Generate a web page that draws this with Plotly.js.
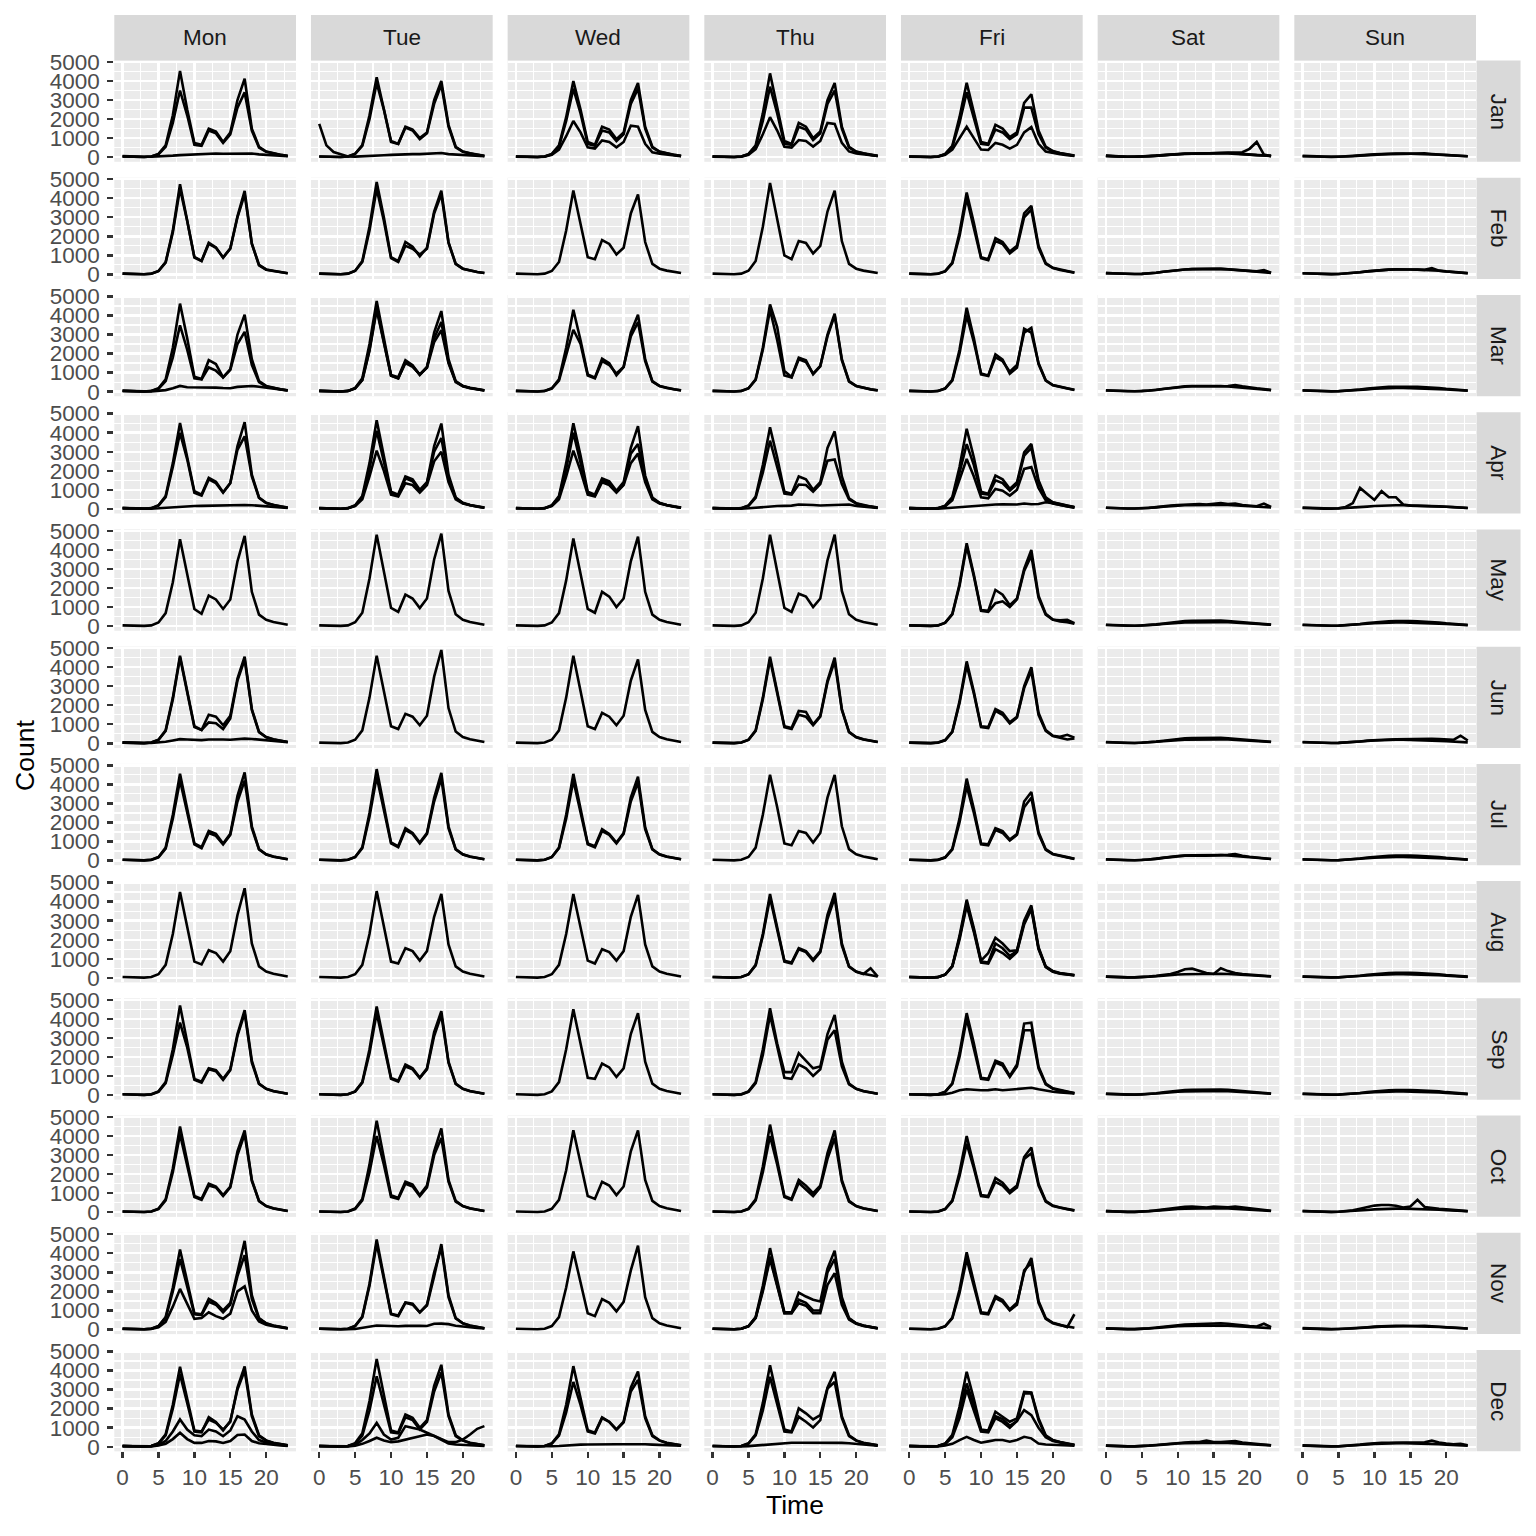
<!DOCTYPE html>
<html><head><meta charset="utf-8">
<script src="https://cdn.plot.ly/plotly-3.0.1.min.js"></script>
<style>html,body{margin:0;padding:0;background:#fff}#chart{width:1536px;height:1536px}</style>
</head><body><div id="chart"></div>
<script>
// ---------- labels ----------
const hours = [0,1,2,3,4,5,6,7,8,9,10,11,12,13,14,15,16,17,18,19,20,21,22,23];
const days = ['Mon','Tue','Wed','Thu','Fri','Sat','Sun'];
const months = ['Jan','Feb','Mar','Apr','May','Jun','Jul','Aug','Sep','Oct','Nov','Dec'];
const xTickVals = [0,5,10,15,20];
const yTickVals = [0,1000,2000,3000,4000,5000];

// ---------- shared low-traffic profiles (hours 0..23) ----------
const satA = [60,40,30,20,20,30, 50,80,110,150,170,190, 200,200,190,200,210,200, 180,150,130,110,90,70];
const satB = [80,50,35,25,20,30, 40,70,100,130,160,170, 180,190,180,190,210,230, 200,160,130,110,90,70];
const satC = [70,50,35,25,20,30, 50,90,140,190,230,260, 280,290,300,300,290,270, 240,200,170,140,110,80];
const sunA = [70,50,35,25,20,25, 40,60,90,120,150,170, 180,190,190,180,190,180, 160,130,110,90,70,50];
const sunB = [50,30,25,20,15,20, 30,50,80,110,130,150, 160,170,170,180,190,200, 170,140,110,90,70,50];
const sunC = [60,40,30,20,15,20, 40,70,110,160,200,230, 250,260,270,260,250,240, 230,190,150,120,90,60];
const holA = [60,40,30,20,20,30, 50,80,110,130,150,170, 180,190,180,190,200,210, 190,150,120,90,70,50];
const satJanSpike = [70,40,30,20,20,30, 50,80,110,140,160,180, 180,190,200,210,220,230, 240,260,440,800,140,50];
const satFebBump = [70,50,35,25,20,30, 50,90,140,190,230,260, 280,290,320,300,290,270, 250,220,190,160,230,90];
const sunFebBump = [60,40,30,20,15,20, 40,70,110,160,200,230, 250,270,280,260,250,240, 330,200,160,130,100,70];
const satMarBump = [60,40,30,20,20,30, 60,100,150,200,250,280, 300,290,280,270,280,300, 350,280,220,180,140,90];
const satAprBump = [60,40,30,20,20,30, 50,90,140,180,200,220, 240,260,230,250,300,260, 280,200,160,140,280,100];
const sunAprSpike = [50,30,20,15,15,30, 100,300,1100,790,470,930, 610,610,230,170,160,170, 160,140,110,90,70,50];
const sunJunSpike = [60,40,30,20,15,25, 40,70,100,140,170,190, 200,210,220,230,250,260, 240,220,200,180,400,150];
const satJulBump = [60,40,30,20,20,30, 60,100,150,200,240,260, 270,260,250,260,280,300, 340,250,200,160,120,80];
const satAugBump = [60,40,30,20,20,30, 60,100,150,200,300,450, 480,350,250,200,500,350, 250,200,160,140,110,80];
const satOctBump = [60,40,30,20,20,30, 60,100,150,200,250,280, 300,270,250,300,280,260, 300,250,200,160,120,80];
const sunOctBump = [60,40,30,20,15,25, 50,100,180,280,350,380, 380,340,250,300,650,280, 220,180,150,120,90,60];
const satNovBump = [60,40,30,20,20,30, 60,100,150,200,220,260, 280,300,300,320,330,300, 250,200,180,160,300,120];
const satDecBump = [60,40,30,20,20,30, 60,90,130,170,200,220, 240,250,320,250,240,260, 300,220,180,150,120,80];
const sunDecBump = [60,40,30,20,15,20, 40,70,110,150,180,200, 200,200,200,200,210,230, 320,220,170,130,150,80];

// ---------- per month: [Mon..Sun], each a list of daily hourly count lines ----------
const jan = [
  [[40,20,10,10,40,170, 620,2200,4530,2500,750,650, 1500,1350,800,1300,3000,4120, 1500,550,300,200,130,70],
   [40,20,10,10,35,150, 550,1800,3500,2200,650,600, 1400,1250,750,1200,2600,3400, 1400,500,280,180,120,60],
   holA],
  [[1750,620,270,140,40,30, 40,60,80,100,120,140, 150,160,160,170,180,220, 160,130,110,90,70,50],
   [40,20,10,10,40,180, 640,2200,4200,2600,850,700, 1600,1450,1000,1300,3000,4000, 1700,550,300,200,130,70],
   [40,20,10,10,35,170, 600,2000,3900,2500,800,700, 1550,1400,950,1250,2800,3800, 1600,520,290,190,120,60]],
  [[40,20,10,10,40,170, 620,2100,4000,2500,800,650, 1600,1450,950,1300,3000,3900, 1600,550,300,200,130,70],
   [40,20,10,10,35,150, 560,1900,3600,2300,700,600, 1400,1300,850,1200,2800,3600, 1500,500,280,180,120,60],
   [30,15,10,10,30,120, 400,1100,1900,1300,520,450, 880,800,520,800,1650,1600, 700,260,180,130,90,50]],
  [[40,20,10,10,40,170, 620,2300,4400,2700,850,700, 1800,1600,1000,1350,3000,3900, 1600,550,300,200,130,70],
   [40,20,10,10,35,150, 560,1900,3700,2300,700,650, 1600,1450,900,1250,2800,3500, 1500,500,280,180,120,60],
   [30,15,10,10,30,120, 420,1200,2100,1400,550,500, 900,850,560,850,1800,1750, 750,300,200,140,100,60]],
  [[40,20,10,10,40,170, 600,2100,3900,2400,800,700, 1700,1500,1050,1300,2850,3300, 1400,550,320,220,150,90],
   [40,20,10,10,35,150, 550,1800,3400,2100,700,650, 1450,1300,950,1200,2600,2600, 1200,500,300,200,140,80],
   [30,15,10,10,30,120, 400,1000,1600,1000,400,380, 750,650,450,650,1300,1580, 700,300,220,160,110,70]],
  [satA, satB, satJanSpike],
  [sunA, sunB]
];
const feb = [
  [[40,20,10,10,40,180, 650,2300,4730,2900,920,710, 1670,1420,890,1370,3050,4380, 1630,480,250,180,120,60],
   [40,20,10,10,35,170, 620,2200,4500,2800,880,700, 1600,1400,880,1350,3000,4200, 1600,500,260,180,120,60]],
  [[40,20,10,10,40,190, 700,2500,4850,3000,900,700, 1700,1450,950,1400,3300,4400, 1700,550,300,200,130,70],
   [40,20,10,10,40,180, 650,2300,4500,2800,850,650, 1500,1350,1050,1350,3200,4200, 1650,550,300,200,130,70]],
  [[40,20,10,10,40,180, 650,2300,4400,2700,900,800, 1800,1600,1050,1400,3200,4200, 1700,550,300,200,130,70]],
  [[40,20,10,10,40,190, 700,2500,4800,2900,1000,800, 1750,1650,1100,1500,3300,4400, 1750,550,300,200,130,70]],
  [[40,20,10,10,40,170, 620,2200,4300,2700,900,800, 1900,1700,1200,1500,3200,3600, 1500,600,350,250,180,100],
   [40,20,10,10,35,160, 580,2000,4000,2500,850,750, 1750,1600,1100,1400,3000,3400, 1400,550,330,230,160,90]],
  [satC, satFebBump],
  [sunC, sunFebBump]
];
const mar = [
  [[40,20,10,10,40,180, 650,2300,4620,2800,780,660, 1650,1450,750,1170,3000,4040, 1700,550,300,200,130,70],
   [40,20,10,10,35,150, 550,1800,3480,2200,700,650, 1270,1100,750,1150,2500,3140, 1400,500,270,180,120,60],
   [50,30,20,15,15,30, 80,180,300,230,230,210, 210,210,190,180,250,260, 300,260,200,150,100,60]],
  [[40,20,10,10,40,190, 700,2500,4760,2900,870,750, 1650,1390,870,1270,3100,4230, 1700,550,300,200,130,70],
   [40,20,10,10,40,170, 620,2200,4400,2700,850,700, 1550,1350,900,1300,2800,3660, 1550,520,290,190,120,60],
   [40,20,10,10,35,170, 610,2150,4300,2650,830,700, 1500,1300,900,1250,2600,3220, 1500,500,280,180,120,60]],
  [[40,20,10,10,40,180, 650,2300,4300,2700,910,730, 1730,1500,860,1290,3100,4040, 1700,550,300,200,130,70],
   [40,20,10,10,35,160, 580,1900,3250,2500,850,700, 1600,1400,950,1300,2900,3650, 1600,520,290,190,120,60]],
  [[40,20,10,10,40,180, 650,2300,4580,3390,1080,770, 1780,1640,910,1330,3000,4090, 1700,550,300,200,130,70],
   [40,20,10,10,35,170, 620,2200,4300,2700,850,750, 1700,1550,950,1350,2900,4000, 1650,520,290,190,120,60]],
  [[40,20,10,10,40,170, 620,2200,4400,2800,910,820, 1960,1680,940,1260,3300,3100, 1500,600,350,250,180,100],
   [40,20,10,10,35,160, 580,2000,4000,2600,950,850, 1800,1600,1050,1400,3100,3350, 1450,580,330,230,160,90]],
  [satC, satMarBump],
  [sunA, sunC]
];
const apr = [
  [[40,20,10,10,40,190, 680,2400,4510,2800,930,750, 1630,1420,870,1360,3300,4550, 1800,600,320,200,130,70],
   [40,20,10,10,35,170, 620,2200,3990,2600,850,700, 1550,1350,850,1350,3100,3810, 1700,570,300,190,120,60],
   [40,30,20,15,15,30, 60,90,120,140,150,160, 170,180,180,190,200,200, 190,170,140,110,80,50]],
  [[40,20,10,10,40,190, 680,2400,4650,2800,900,750, 1700,1550,1000,1400,3300,4480, 1800,600,320,200,130,70],
   [40,20,10,10,35,170, 620,2100,4100,2500,850,700, 1600,1450,950,1350,3000,3720, 1650,570,300,190,120,60],
   [30,20,10,10,30,150, 500,1700,3060,2000,750,650, 1350,1250,850,1250,2500,3000, 1400,500,280,180,110,60]],
  [[40,20,10,10,40,190, 680,2400,4490,2800,900,750, 1600,1450,950,1400,3200,4340, 1750,600,320,200,130,70],
   [40,20,10,10,35,170, 620,2100,4000,2500,850,700, 1500,1350,900,1300,2900,3410, 1600,550,300,190,120,60],
   [30,20,10,10,30,150, 500,1700,3060,2000,750,650, 1400,1250,850,1250,2400,2900, 1400,500,280,180,110,60]],
  [[40,20,10,10,40,180, 650,2300,4280,2700,900,800, 1700,1550,1000,1400,3200,4070, 1700,550,300,200,130,70],
   [40,20,10,10,35,160, 580,1900,3580,2200,800,750, 1280,1250,900,1300,2530,2590, 1300,500,280,180,120,60],
   [40,30,20,15,15,30, 60,100,140,150,160,170, 230,230,200,180,200,190, 230,230,150,110,80,50]],
  [[40,20,10,10,40,170, 620,2200,4200,2700,900,800, 1750,1550,1050,1400,2970,3410, 1500,600,350,250,180,100],
   [40,20,10,10,35,150, 550,1900,3400,2300,800,750, 1500,1350,950,1300,2800,3200, 1400,550,330,230,160,90],
   [30,20,10,10,30,130, 450,1500,2620,1700,610,550, 1050,950,700,1000,2100,2190, 1100,450,280,200,140,80],
   [40,30,20,15,15,30, 60,100,140,170,190,200, 230,240,250,230,280,240, 260,350,300,200,120,60]],
  [satA, satAprBump],
  [sunAprSpike, sunA]
];
const may = [
  [[40,20,10,10,40,190, 680,2300,4560,2700,900,650, 1600,1400,900,1400,3400,4740, 1800,600,330,210,140,70]],
  [[40,20,10,10,40,200, 700,2500,4800,2900,950,750, 1650,1450,950,1450,3500,4850, 1850,620,330,210,140,70]],
  [[40,20,10,10,40,190, 680,2400,4600,2800,900,700, 1800,1550,1000,1450,3400,4700, 1800,600,330,210,140,70]],
  [[40,20,10,10,40,200, 700,2500,4800,2900,950,750, 1700,1550,1000,1450,3450,4800, 1850,620,330,210,140,70]],
  [[40,20,10,10,40,180, 640,2200,4350,2700,850,800, 1900,1650,1100,1450,3000,4000, 1600,650,350,250,200,120],
   [40,20,10,10,35,170, 610,2100,4200,2600,800,750, 1200,1300,1000,1400,2900,3700, 1500,600,330,300,330,150]],
  [satC, satA],
  [sunC, sunA]
];
const jun = [
  [[40,20,10,10,40,190, 680,2400,4600,2800,900,700, 1500,1400,950,1450,3400,4550, 1800,600,330,210,140,70],
   [40,20,10,10,40,180, 650,2300,4500,2700,850,700, 1100,1050,750,1300,3300,4400, 1750,580,320,200,130,70],
   [50,30,20,15,15,30, 80,150,220,200,170,170, 200,210,200,190,230,250, 230,200,160,120,90,60]],
  [[40,20,10,10,40,190, 680,2400,4600,2800,900,750, 1550,1400,950,1450,3500,4900, 1850,620,330,210,140,70]],
  [[40,20,10,10,40,190, 680,2400,4600,2800,900,750, 1600,1400,950,1450,3300,4400, 1750,600,330,210,140,70]],
  [[40,20,10,10,40,190, 680,2400,4550,2800,900,800, 1700,1650,1000,1450,3300,4500, 1800,600,330,210,140,70],
   [40,20,10,10,40,180, 650,2300,4400,2700,850,750, 1500,1400,950,1400,3200,4300, 1750,580,320,200,130,70]],
  [[40,20,10,10,40,170, 620,2200,4300,2700,900,850, 1800,1600,1100,1400,3000,4000, 1600,700,400,350,450,300],
   [40,20,10,10,35,160, 600,2100,4100,2600,850,800, 1700,1500,1050,1350,2900,3800, 1500,650,380,300,200,250]],
  [satA, satC],
  [sunA, sunJunSpike]
];
const jul = [
  [[40,20,10,10,40,190, 680,2400,4560,2700,900,700, 1550,1400,900,1400,3400,4630, 1800,600,330,210,140,70],
   [40,20,10,10,35,170, 620,2200,4200,2500,850,650, 1450,1300,850,1350,3100,4200, 1700,580,320,200,130,70]],
  [[40,20,10,10,40,190, 700,2500,4800,2900,950,750, 1700,1450,950,1450,3300,4600, 1800,600,330,210,140,70],
   [40,20,10,10,40,180, 650,2300,4400,2700,900,700, 1600,1400,900,1400,3100,4300, 1700,580,320,200,130,70]],
  [[40,20,10,10,40,190, 680,2400,4550,2800,900,750, 1650,1400,950,1450,3300,4400, 1750,600,330,210,140,70],
   [40,20,10,10,40,180, 650,2200,4200,2600,850,700, 1550,1350,900,1400,3100,4100, 1650,580,320,200,130,70]],
  [[40,20,10,10,40,190, 680,2400,4500,2800,900,800, 1550,1450,950,1450,3300,4500, 1800,600,330,210,140,70]],
  [[40,20,10,10,40,170, 620,2200,4300,2700,900,850, 1700,1550,1100,1400,3100,3600, 1500,600,350,250,180,100],
   [40,20,10,10,35,160, 580,2000,3900,2500,850,800, 1600,1450,1050,1350,2800,3300, 1400,560,330,230,160,90]],
  [satC, satJulBump],
  [sunC, sunA]
];
const aug = [
  [[40,20,10,10,40,190, 680,2300,4500,2700,850,700, 1450,1300,850,1400,3300,4700, 1800,600,330,210,140,70]],
  [[40,20,10,10,40,190, 680,2300,4550,2700,850,750, 1550,1400,900,1400,3200,4400, 1750,600,330,210,140,70]],
  [[40,20,10,10,40,190, 680,2300,4400,2700,900,750, 1500,1350,900,1400,3200,4350, 1750,600,330,210,140,70]],
  [[40,20,10,10,40,190, 680,2300,4400,2700,900,800, 1550,1400,950,1400,3300,4450, 1800,600,330,210,140,70],
   [40,20,10,10,40,180, 650,2200,4200,2600,850,750, 1500,1350,900,1350,3100,4200, 1700,580,320,200,500,60]],
  [[40,20,10,10,40,170, 620,2200,4100,2600,900,1300, 2100,1800,1400,1450,3000,3800, 1600,600,350,250,200,150],
   [40,20,10,10,35,160, 600,2100,3900,2500,850,800, 1800,1550,1150,1400,2900,3700, 1550,580,330,230,180,130],
   [40,20,10,10,35,160, 600,2000,3800,2400,800,750, 1500,1300,1000,1350,2800,3600, 1500,560,320,220,170,120]],
  [satA, satAugBump],
  [sunA, sunC]
];
const sep = [
  [[40,20,10,10,40,190, 680,2400,4700,2800,850,700, 1400,1300,850,1350,3200,4450, 1800,600,330,210,140,70],
   [40,20,10,10,35,170, 620,2100,3800,2500,800,650, 1350,1250,800,1300,3100,4300, 1700,580,320,200,130,70]],
  [[40,20,10,10,40,190, 680,2400,4650,2800,900,750, 1600,1400,900,1400,3300,4400, 1750,600,330,210,140,70],
   [40,20,10,10,40,180, 650,2200,4300,2600,850,700, 1500,1350,900,1350,3100,4200, 1700,580,320,200,130,70]],
  [[40,20,10,10,40,190, 680,2400,4500,2700,900,850, 1650,1450,950,1400,3200,4300, 1750,600,330,210,140,70]],
  [[40,20,10,10,40,190, 680,2400,4550,2700,1200,1200, 2200,1800,1400,1500,3200,4200, 1750,600,330,210,140,70],
   [40,20,10,10,35,170, 620,2100,4200,2500,900,850, 1600,1400,1000,1350,2900,3400, 1500,560,320,200,130,70]],
  [[40,20,10,10,40,170, 620,2200,4300,2700,900,850, 1800,1650,1000,1600,3750,3800, 1500,600,350,250,180,100],
   [40,20,10,10,35,160, 580,2000,4000,2500,850,800, 1700,1550,950,1500,3400,3400, 1400,560,330,230,160,90],
   [40,30,20,15,15,40, 120,250,300,280,250,260, 300,250,280,300,350,380, 300,220,170,140,110,80]],
  [satA, satC],
  [sunA, sunC]
];
const oct = [
  [[40,20,10,10,40,190, 680,2300,4500,2700,850,700, 1500,1350,900,1350,3200,4300, 1700,600,330,210,140,70],
   [40,20,10,10,35,170, 620,2100,4100,2500,800,650, 1400,1300,850,1300,3000,4100, 1650,580,320,200,130,70]],
  [[40,20,10,10,40,200, 700,2500,4800,2900,900,750, 1600,1450,900,1400,3200,4400, 1700,600,330,210,140,70],
   [40,20,10,10,35,170, 620,2100,4000,2500,800,700, 1500,1350,850,1300,3000,3900, 1600,560,320,200,130,70]],
  [[40,20,10,10,40,180, 650,2200,4300,2600,850,700, 1600,1400,900,1350,3200,4300, 1700,600,330,210,140,70]],
  [[40,20,10,10,40,190, 680,2400,4600,2800,850,700, 1700,1400,1000,1400,3100,4300, 1700,600,330,210,140,70],
   [40,20,10,10,35,170, 620,2100,4000,2500,800,650, 1550,1200,850,1300,2800,3900, 1600,560,320,200,130,70]],
  [[40,20,10,10,40,170, 620,2100,4000,2500,900,850, 1800,1550,1100,1400,2900,3400, 1500,600,350,250,180,100],
   [40,20,10,10,35,160, 580,1900,3600,2300,850,800, 1600,1400,1000,1300,2800,3100, 1400,560,330,230,160,90]],
  [satA, satOctBump],
  [sunA, sunOctBump]
];
const nov = [
  [[40,20,10,10,40,180, 650,2200,4200,2600,850,800, 1610,1390,1000,1390,2990,4650, 1800,600,330,210,140,70],
   [40,20,10,10,35,170, 600,2000,3700,2300,800,750, 1450,1300,900,1300,2800,3900, 1600,560,320,200,130,70],
   [30,20,10,10,30,120, 400,1200,2130,1300,560,600, 900,700,560,830,2000,2260, 1000,420,250,170,110,60]],
  [[40,20,10,10,40,190, 680,2400,4720,2800,830,730, 1420,1350,900,1250,2780,4480, 1800,600,330,210,140,70],
   [40,20,10,10,35,180, 650,2300,4500,2700,800,700, 1400,1300,900,1300,3000,4300, 1700,580,320,200,130,70],
   [40,30,20,15,15,30, 80,150,210,200,180,170, 190,200,200,180,300,310, 280,200,150,110,80,50]],
  [[40,20,10,10,40,180, 650,2200,4100,2500,850,700, 1600,1400,950,1450,3100,4400, 1700,600,330,210,140,70]],
  [[40,20,10,10,40,180, 650,2300,4270,2600,900,900, 1940,1730,1560,1470,3200,4140, 1700,600,330,210,140,70],
   [40,20,10,10,35,170, 620,2100,3830,2400,850,850, 1560,1400,1000,1000,3000,3700, 1500,560,320,200,130,70],
   [40,20,10,10,35,160, 600,2000,3700,2300,850,850, 1380,1250,860,860,2340,2950, 1300,520,300,190,120,60]],
  [[40,20,10,10,40,170, 620,2100,4050,2500,900,850, 1750,1550,1050,1400,3000,3750, 1500,600,350,250,120,800],
   [40,20,10,10,35,160, 580,1900,3700,2300,850,800, 1650,1450,1000,1300,3100,3500, 1400,560,330,230,160,90]],
  [satNovBump, satA],
  [sunA, sunB]
];
const dec = [
  [[40,20,10,10,40,180, 650,2200,4200,2500,850,800, 1430,1250,900,1300,3100,4220, 1700,600,330,210,140,70],
   [40,20,10,10,35,170, 600,2000,3800,2300,800,750, 1550,1300,850,1350,3000,4000, 1600,560,320,200,130,70],
   [30,20,10,10,30,100, 300,800,1430,900,600,550, 900,800,550,850,1600,1430, 800,350,220,150,100,60],
   [30,20,10,10,20,60, 150,400,730,400,200,200, 300,280,200,300,620,640, 300,180,130,100,70,40]],
  [[40,20,10,10,40,190, 700,2400,4600,2700,850,750, 1690,1515,990,1400,3200,4300, 1700,600,330,210,140,70],
   [40,20,10,10,35,160, 580,1900,3700,2200,750,700, 1550,1400,900,1300,2900,3900, 1600,560,320,200,130,70],
   [40,20,10,10,30,100, 350,700,1250,640,380,470, 1080,990,900,730,560,380, 240,240,380,640,940,1080],
   [30,20,10,10,20,50, 150,300,470,330,240,280, 380,450,560,640,560,380, 170,120,100,80,60,40]],
  [[40,20,10,10,40,180, 650,2200,4230,2600,870,730, 1540,1310,910,1310,3100,3950, 1600,600,330,210,140,70],
   [40,20,10,10,35,160, 580,1800,3400,2200,800,700, 1500,1300,880,1280,2900,3500, 1500,560,320,200,130,70],
   [40,30,20,15,15,25, 40,70,100,110,120,130, 140,140,130,130,140,150, 130,110,100,90,70,50]],
  [[40,20,10,10,40,180, 650,2300,4280,2600,900,800, 2010,1750,1430,1660,3100,3930, 1600,600,330,210,140,70],
   [40,20,10,10,35,160, 600,1900,3670,2300,800,750, 1570,1310,1010,1400,3060,3400, 1500,560,320,200,130,70],
   [40,30,20,15,15,30, 60,100,150,180,200,210, 210,210,200,200,220,210, 200,180,140,110,80,50]],
  [[40,20,10,10,40,170, 620,2100,3930,2500,900,850, 1840,1570,1310,1490,2880,2850, 1500,600,350,250,180,100],
   [40,20,10,10,35,150, 560,1800,3320,2200,850,800, 1600,1450,1100,1350,2800,2800, 1400,560,330,230,160,90],
   [40,20,10,10,35,140, 500,1500,3000,1900,800,750, 1500,1300,1000,1350,1920,1660, 1000,500,300,220,150,80],
   [30,20,10,10,20,60, 150,350,520,350,210,280, 350,350,260,350,520,440, 170,120,110,90,70,50]],
  [satA, satDecBump],
  [sunA, sunDecBump]
];
const monthData = [jan, feb, mar, apr, may, jun, jul, aug, sep, oct, nov, dec];

// ---------- layout geometry (pixels) ----------
const W = 1536, H = 1536;
const FONT = '"Liberation Sans", Arial, Helvetica, sans-serif';
const panelLeft = 114.3, colStep = 196.67, panelW = 181.7;
const panelTop = 60.5, rowStep = 117.23, panelH = 101.3;
const stripTop = 15, stripRightW = 44;
const xMinor = [2.5,7.5,12.5,17.5,22.5];
const yMinor = [500,1500,2500,3500,4500];
const TICK_SIZE = 22.5;
const STRIP_SIZE = 22.5;

const traces = [];
const layout = {
  width: W, height: H, margin: {l:0, r:0, t:0, b:0},
  paper_bgcolor: '#FFFFFF', plot_bgcolor: '#EBEBEB', showlegend: false,
  font: {family: FONT}, shapes: [], annotations: []
};

monthData.forEach((month, r) => {
  month.forEach((lines, c) => {
    const n = r * 7 + c + 1;
    const s = n === 1 ? '' : String(n);
    const x0 = panelLeft + c * colStep;
    const y0 = panelTop + r * rowStep;
    layout['xaxis' + s] = {
      domain: [x0 / W, (x0 + panelW) / W], anchor: 'y' + s, range: [-1.15, 24.15],
      tickmode: 'array', tickvals: xTickVals, ticktext: xTickVals.map(String),
      showticklabels: r === 11, ticks: r === 11 ? 'outside' : '',
      ticklen: 6, tickwidth: 2.4, tickcolor: '#333333', ticklabelstandoff: 0,
      tickfont: {family: FONT, size: TICK_SIZE, color: '#4D4D4D'},
      showgrid: true, gridcolor: '#FFFFFF', gridwidth: 2.4, zeroline: false, showline: false,
      minor: {tickvals: xMinor, showgrid: true, gridcolor: '#FFFFFF', gridwidth: 1.2},
      fixedrange: true
    };
    layout['yaxis' + s] = {
      domain: [1 - (y0 + panelH) / H, 1 - y0 / H], anchor: 'x' + s, range: [-242, 5075],
      tickmode: 'array', tickvals: yTickVals, ticktext: yTickVals.map(String),
      showticklabels: c === 0, ticks: c === 0 ? 'outside' : '',
      ticklen: 6, tickwidth: 2.4, tickcolor: '#333333', ticklabelstandoff: 3,
      tickfont: {family: FONT, size: TICK_SIZE, color: '#4D4D4D'},
      showgrid: true, gridcolor: '#FFFFFF', gridwidth: 2.4, zeroline: false, showline: false,
      minor: {tickvals: yMinor, showgrid: true, gridcolor: '#FFFFFF', gridwidth: 1.2},
      fixedrange: true
    };
    lines.forEach(vals => {
      traces.push({
        type: 'scatter', mode: 'lines', x: hours, y: vals,
        xaxis: 'x' + s, yaxis: 'y' + s,
        line: {color: '#000000', width: 2.6}, hoverinfo: 'skip', showlegend: false
      });
    });
  });
});

// top strips (days)
days.forEach((d, c) => {
  const x0 = panelLeft + c * colStep;
  layout.shapes.push({type: 'rect', xref: 'paper', yref: 'paper',
    x0: x0 / W, x1: (x0 + panelW) / W, y0: 1 - panelTop / H, y1: 1 - stripTop / H,
    fillcolor: '#D9D9D9', line: {width: 0}});
  layout.annotations.push({xref: 'paper', yref: 'paper', x: (x0 + panelW / 2) / W,
    y: 1 - ((stripTop + panelTop) / 2) / H, text: d, showarrow: false,
    xanchor: 'center', yanchor: 'middle', font: {family: FONT, size: STRIP_SIZE, color: '#1A1A1A'}});
});
// right strips (months)
const stripX0 = panelLeft + 6 * colStep + panelW + 0.5;
months.forEach((m, r) => {
  const y0 = panelTop + r * rowStep;
  layout.shapes.push({type: 'rect', xref: 'paper', yref: 'paper',
    x0: stripX0 / W, x1: (stripX0 + stripRightW) / W, y0: 1 - (y0 + panelH) / H, y1: 1 - y0 / H,
    fillcolor: '#D9D9D9', line: {width: 0}});
  layout.annotations.push({xref: 'paper', yref: 'paper', x: (stripX0 + stripRightW / 2) / W,
    y: 1 - (y0 + panelH / 2) / H, text: m, showarrow: false, textangle: 90,
    xanchor: 'center', yanchor: 'middle', font: {family: FONT, size: STRIP_SIZE, color: '#1A1A1A'}});
});
// axis titles
const gridMidX = (panelLeft + 6 * colStep + panelW + panelLeft) / 2;
const gridMidY = (panelTop + 11 * rowStep + panelH + panelTop) / 2;
layout.annotations.push({xref: 'paper', yref: 'paper', x: gridMidX / W, y: 1 - 1505 / H,
  text: 'Time', showarrow: false, xanchor: 'center', yanchor: 'middle',
  font: {family: FONT, size: 26.5, color: '#000000'}});
layout.annotations.push({xref: 'paper', yref: 'paper', x: 25 / W, y: 1 - gridMidY / H,
  text: 'Count', showarrow: false, textangle: -90, xanchor: 'center', yanchor: 'middle',
  font: {family: FONT, size: 26.5, color: '#000000'}});

Plotly.newPlot('chart', traces, layout, {staticPlot: true, displayModeBar: false});
</script>
</body></html>
